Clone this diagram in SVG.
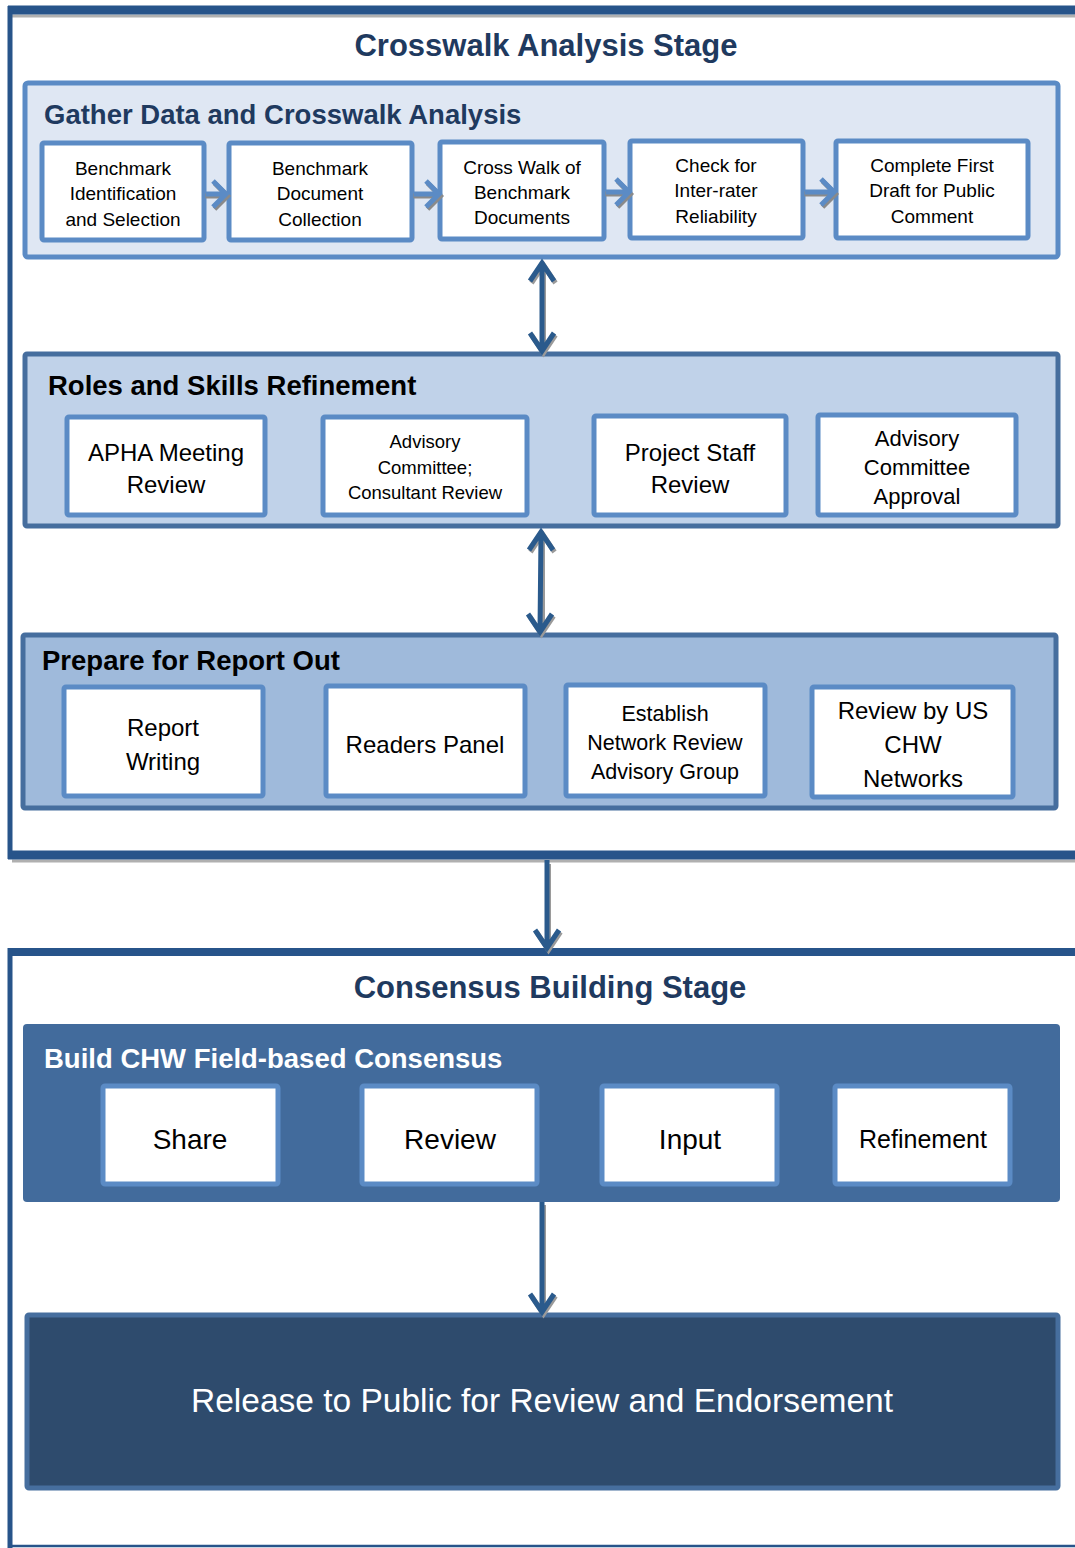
<svg xmlns="http://www.w3.org/2000/svg" width="1075" height="1548" viewBox="0 0 1075 1548">
<style>
text{font-family:"Liberation Sans",Arial,sans-serif;}
.stage{font-size:31px;font-weight:bold;fill:#1f3a5f;text-anchor:middle;}
.grp{font-size:27.5px;font-weight:bold;}
.box{fill:#ffffff;stroke:#5b8bc5;stroke-width:5;}
.t{fill:#000;text-anchor:middle;}
.frame{stroke:#27548a;fill:none;}
.shadow{stroke:#b0b0b0;fill:none;}
.arr{stroke:#2a5a8c;stroke-width:5;fill:none;}
.arrs{stroke:#9a9a9a;stroke-width:5;fill:none;}
.chev{stroke:#5b8bc5;stroke-width:5;fill:none;}
.chevs{stroke:#8a8a8a;stroke-width:5;fill:none;}
</style>
<rect width="1075" height="1548" fill="#ffffff"/>

<g id="stage1-frame">
<line class="shadow" x1="12" y1="16" x2="1075" y2="16" stroke-width="3"/>
<line class="frame" x1="8" y1="10" x2="1075" y2="10" stroke-width="9"/>
<line class="frame" x1="10" y1="6" x2="10" y2="859" stroke-width="5"/>
<line class="shadow" x1="12" y1="861" x2="1075" y2="861" stroke-width="3"/>
<line class="frame" x1="8" y1="855" x2="1075" y2="855" stroke-width="9"/>
<text class="stage" x="546" y="56">Crosswalk Analysis Stage</text>
</g>

<g id="gather">
<rect x="25" y="83" width="1033" height="174" rx="3" fill="#dfe7f3" stroke="#5b8bc5" stroke-width="5"/>
<text class="grp" x="44" y="124" fill="#1f3a5f">Gather Data and Crosswalk Analysis</text>
</g>
<g id="n1"><rect class="box" x="42" y="143" width="162" height="97" rx="2"/>
<text class="t" font-size="19" x="123"><tspan x="123" y="175">Benchmark</tspan><tspan x="123" y="200">Identification</tspan><tspan x="123" y="226">and Selection</tspan></text></g>
<g id="n2"><rect class="box" x="229" y="143" width="183" height="97" rx="2"/>
<text class="t" font-size="19" x="320"><tspan x="320" y="175">Benchmark</tspan><tspan x="320" y="200">Document</tspan><tspan x="320" y="226">Collection</tspan></text></g>
<g id="n3"><rect class="box" x="440" y="142" width="164" height="97" rx="2"/>
<text class="t" font-size="19" x="522"><tspan x="522" y="174">Cross Walk of</tspan><tspan x="522" y="199">Benchmark</tspan><tspan x="522" y="224">Documents</tspan></text></g>
<g id="n4"><rect class="box" x="630" y="141" width="173" height="97" rx="2"/>
<text class="t" font-size="19" x="716"><tspan x="716" y="172">Check for</tspan><tspan x="716" y="197">Inter-rater</tspan><tspan x="716" y="223">Reliability</tspan></text></g>
<g id="n5"><rect class="box" x="836" y="141" width="192" height="97" rx="2"/>
<text class="t" font-size="19" x="932"><tspan x="932" y="172">Complete First</tspan><tspan x="932" y="197">Draft for Public</tspan><tspan x="932" y="223">Comment</tspan></text></g>

<g id="roles">
<rect x="25" y="354" width="1033" height="172" rx="2" fill="#c0d2e9" stroke="#466e9e" stroke-width="5"/>
<text class="grp" x="48" y="395" fill="#000">Roles and Skills Refinement</text>
</g>
<g id="r1"><rect class="box" x="67" y="417" width="198" height="98" rx="2"/>
<text class="t" font-size="24"><tspan x="166" y="461">APHA Meeting</tspan><tspan x="166" y="493">Review</tspan></text></g>
<g id="r2"><rect class="box" x="323" y="417" width="204" height="98" rx="2"/>
<text class="t" font-size="18.5"><tspan x="425" y="448">Advisory</tspan><tspan x="425" y="474">Committee;</tspan><tspan x="425" y="499">Consultant Review</tspan></text></g>
<g id="r3"><rect class="box" x="594" y="416" width="192" height="99" rx="2"/>
<text class="t" font-size="24"><tspan x="690" y="461">Project Staff</tspan><tspan x="690" y="493">Review</tspan></text></g>
<g id="r4"><rect class="box" x="818" y="415" width="198" height="100" rx="2"/>
<text class="t" font-size="22"><tspan x="917" y="446">Advisory</tspan><tspan x="917" y="475">Committee</tspan><tspan x="917" y="504">Approval</tspan></text></g>

<g id="prepare">
<rect x="23" y="635" width="1033" height="173" rx="2" fill="#9fbadb" stroke="#466e9e" stroke-width="5"/>
<text class="grp" x="42" y="670" fill="#000">Prepare for Report Out</text>
</g>
<g id="p1"><rect class="box" x="64" y="687" width="199" height="109" rx="2"/>
<text class="t" font-size="24"><tspan x="163" y="736">Report</tspan><tspan x="163" y="770">Writing</tspan></text></g>
<g id="p2"><rect class="box" x="326" y="686" width="199" height="110" rx="2"/>
<text class="t" font-size="24"><tspan x="425" y="753">Readers Panel</tspan></text></g>
<g id="p3"><rect class="box" x="566" y="685" width="199" height="111" rx="2"/>
<text class="t" font-size="21.5"><tspan x="665" y="721">Establish</tspan><tspan x="665" y="750">Network Review</tspan><tspan x="665" y="779">Advisory Group</tspan></text></g>
<g id="p4"><rect class="box" x="812" y="687" width="201" height="110" rx="2"/>
<text class="t" font-size="24"><tspan x="913" y="719">Review by US</tspan><tspan x="913" y="753">CHW</tspan><tspan x="913" y="787">Networks</tspan></text></g>

<g id="stage2-frame">
<line class="frame" x1="8" y1="952" x2="1075" y2="952" stroke-width="8"/>
<line class="frame" x1="10" y1="948" x2="10" y2="1548" stroke-width="5"/>
<line class="frame" x1="8" y1="1546" x2="1075" y2="1546" stroke-width="2.5"/>
<text class="stage" x="550" y="998">Consensus Building Stage</text>
</g>

<g id="build">
<rect x="23" y="1024" width="1037" height="178" rx="4" fill="#426b9c"/>
<text class="grp" x="44" y="1068" fill="#ffffff">Build CHW Field-based Consensus</text>
</g>
<g id="b1"><rect class="box" x="103" y="1086" width="175" height="98" rx="2" stroke-width="6"/>
<text class="t" font-size="28"><tspan x="190" y="1149">Share</tspan></text></g>
<g id="b2"><rect class="box" x="362" y="1086" width="175" height="98" rx="2" stroke-width="6"/>
<text class="t" font-size="28"><tspan x="450" y="1149">Review</tspan></text></g>
<g id="b3"><rect class="box" x="602" y="1086" width="175" height="98" rx="2" stroke-width="6"/>
<text class="t" font-size="28"><tspan x="690" y="1149">Input</tspan></text></g>
<g id="b4"><rect class="box" x="835" y="1086" width="175" height="98" rx="2" stroke-width="6"/>
<text class="t" font-size="25"><tspan x="923" y="1148">Refinement</tspan></text></g>

<g id="release">
<rect x="27" y="1315" width="1031" height="173" rx="2" fill="#2e4b6d" stroke="#466e9e" stroke-width="5"/>
<text x="542" y="1412" font-size="33.5" fill="#ffffff" text-anchor="middle">Release to Public for Review and Endorsement</text>
</g>

<g id="connectors">
<g transform="translate(1.5,2)">
<path class="chevs" d="M204 194H226M213 181L226 194L213 207"/>
<path class="chevs" d="M412 194H438M426 181L439 194L426 207"/>
<path class="chevs" d="M604 192H627M616 179L629 192L616 205"/>
<path class="chevs" d="M803 192H832M821 179L834 192L821 205"/>
</g>
<path class="chev" d="M206 194H226M213 181L226 194L213 207"/>
<path class="chev" d="M414 194H438M426 181L439 194L426 207"/>
<path class="chev" d="M606 192H627M616 179L629 192L616 205"/>
<path class="chev" d="M805 192H832M821 179L834 192L821 205"/>

<g transform="translate(1.5,2)">
<path class="arrs" d="M542 266V348M530 281L542 263L554 281M530 333L542 351L554 333"/>
<path class="arrs" d="M541 535V630M529 550L541 532L553 550M528 614L540 632L552 614"/>
<path class="arrs" d="M547 862V946M535 930L547 948L559 930"/>
<path class="arrs" d="M542 1203V1310M530 1294L542 1312L554 1294"/>
</g>
<path class="arr" d="M542 266V348M530 281L542 263L554 281M530 333L542 351L554 333"/>
<path class="arr" d="M541 535L540 630M529 550L541 532L553 550M528 614L540 632L552 614"/>
<path class="arr" d="M547 860V946M535 930L547 948L559 930"/>
<path class="arr" d="M542 1202V1310M530 1294L542 1312L554 1294"/>
</g>
</svg>
